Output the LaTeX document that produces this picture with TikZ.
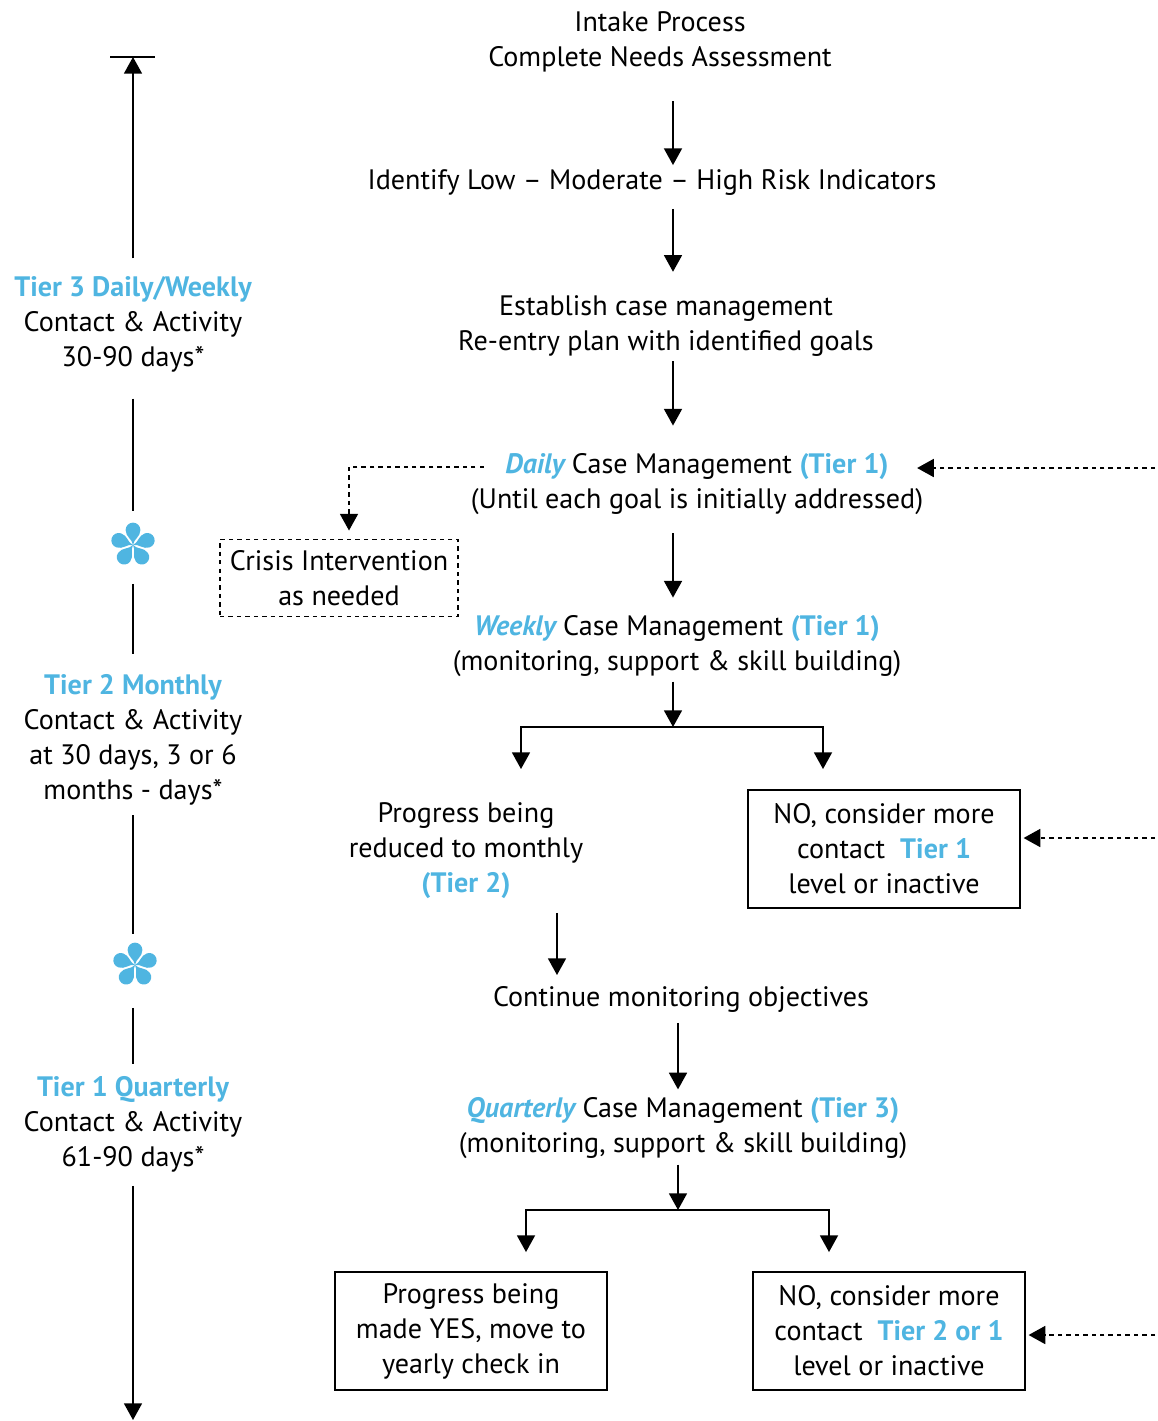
\documentclass[tikz,border=0pt]{standalone}
\usepackage{fontspec}
\setmainfont{PT Sans}
\usetikzlibrary{arrows.meta,calc}
\definecolor{tierblue}{RGB}{79,181,225}
\newcommand{\tb}[1]{\textbf{\color{tierblue}#1}}
\newcommand{\tbi}[1]{\textbf{\itshape\color{tierblue}#1}}
\tikzset{
  txt/.style={align=center,inner sep=0pt},
  okbox/.style={draw,align=center,minimum width=5.44cm,minimum height=2.36cm,inner sep=0pt},
  crisisbox/.style={okbox,dash pattern=on 2.5pt off 2.3pt,minimum width=4.76cm,minimum height=1.54cm},
  dashflow/.style={->,dash pattern=on 2.5pt off 2.3pt},
  starnode/.style={circle,minimum size=0.88cm,inner sep=0pt},
  petals/.pic={
    \foreach \a in {90,162,234,306,18}
      \fill[tierblue,rotate=\a] (0,0) .. controls (6,-0.6) and (8,-7.4) .. (15,-7.4)
        arc[start angle=-90,end angle=90,radius=7.4] .. controls (8,7.4) and (6,0.6) .. (0,0);
  }
}
\begin{document}
\begin{tikzpicture}[x=0.02cm,y=-0.02cm,>={Triangle[length=9.5pt,width=10.2pt]},line width=1.1pt,
  font=\fontsize{16}{19.9}\selectfont]
  \useasboundingbox (0,0) rectangle (1158,1421);
  % main column
  \node[txt] (intake) at (660,42) {Intake Process\\Complete Needs Assessment};
  \node[txt] (identify) at (652,183) {Identify Low – Moderate – High Risk Indicators};
  \node[txt] (establish) at (666,326) {Establish case management\\Re-entry plan with identified goals};
  \node[txt] (daily) at (697,484) {\tbi{Daily} Case Management \tb{(Tier 1)}\\(Until each goal is initially addressed)};
  \node[crisisbox] (crisis) at (339,578) {Crisis Intervention\\as needed};
  \node[txt] (weekly) at (677,646) {\tbi{Weekly} Case Management \tb{(Tier 1)}\\(monitoring, support \& skill building)};
  \node[txt] (monthly) at (466,851) {Progress being\\reduced to monthly\\\tb{(Tier 2)}};
  \node[okbox] (nomore1) at (884,849) {NO, consider more\\contact\ \ \tb{Tier 1}\\level or inactive};
  \node[txt] (cont) at (681,999) {Continue monitoring objectives};
  \node[txt] (quarterly) at (683,1128) {\tbi{Quarterly} Case Management \tb{(Tier 3)}\\(monitoring, support \& skill building)};
  \node[okbox] (yearly) at (471,1331) {Progress being\\made YES, move to\\yearly check in};
  \node[okbox] (nomore2) at (889,1331) {NO, consider more\\contact\ \ \tb{Tier 2 or 1}\\level or inactive};
  % tier column
  \node[txt] (tier3) at (133,324) {\tb{Tier 3 Daily/Weekly}\\Contact \& Activity\\30-90 days*};
  \node[starnode] (star1) at (133,545) {};
  \node[txt] (tier2) at (133,740) {\tb{Tier 2 Monthly}\\Contact \& Activity\\at 30 days, 3 or 6\\months - days*};
  \node[starnode] (star2) at (135,965) {};
  \node[txt] (tier1) at (133,1124) {\tb{Tier 1 Quarterly}\\Contact \& Activity\\61-90 days*};
  \pic at (star1) {petals};
  \pic at (star2) {petals};
  \coordinate (mainx) at (673,0);
  \coordinate (sidex) at (557,0);
  \coordinate (lowx) at (678,0);
  \coordinate (split1) at (673,727);
  \coordinate (split2) at (678,1210);
  \coordinate (topcap) at (133,57);
  \coordinate (botend) at (133,1420);
  \coordinate (ret1) at (1155,468);
  \coordinate (ret2) at (1155,838);
  \coordinate (ret3) at (1155,1335);
  % arrows
  \draw[->,shorten <=15.9pt,shorten >=2.3pt] (intake.south -| mainx) -- (identify.north -| mainx);
  \draw[->,shorten <=6.8pt,shorten >=13pt] (identify.south -| mainx) -- (establish.north -| mainx);
  \draw[->,shorten <=2.3pt,shorten >=15.3pt] (establish.south -| mainx) -- (daily.north -| mainx);
  \draw[->,shorten <=10.2pt,shorten >=9.6pt] (daily.south -| mainx) -- (weekly.north -| mainx);
  \draw[->,shorten <=2.3pt] (weekly.south -| mainx) -- (split1);
  \draw[->] (split1) -| ([shift={(55,-33)}]monthly.north);
  \draw[->] (split1) -| ([shift={(-61,-20)}]nomore1.north);
  \draw[->,shorten <=7.4pt,shorten >=5.7pt] (monthly.south -| sidex) -- (cont.north -| sidex);
  \draw[->,shorten <=5.7pt,shorten >=4pt] (cont.south -| lowx) -- (quarterly.north -| lowx);
  \draw[->,shorten <=2.8pt] (quarterly.south -| lowx) -- (split2);
  \draw[->] (split2) -| ([shift={(55,-19)}]yearly.north);
  \draw[->] (split2) -| ([shift={(-60,-19)}]nomore2.north);
  % dashed returns
  \draw[dashflow,shorten >=-4pt] (ret1) -- (ret1 -| daily.east);
  \draw[dashflow] ([shift={(14,-17)}]daily.west) -| ([shift={(10,-8)}]crisis.north);
  \draw[dashflow,shorten >=1.5pt] (ret2) -- (ret2 -| nomore1.east);
  \draw[dashflow,shorten >=1.5pt] (ret3) -- (ret3 -| nomore2.east);
  % time line
  \draw ([xshift=-0.46cm]topcap) -- ([xshift=0.44cm]topcap);
  \draw[->,shorten <=9.6pt] (tier3.north) -- (topcap);
  \draw[shorten <=14.7pt,shorten >=6.2pt] (tier3.south) -- (star1.north -| tier3);
  \draw[shorten <=9pt,shorten >=11.3pt] (star1.south -| tier3) -- (tier2.north);
  \draw[shorten <=5pt,shorten >=4.5pt] (tier2.south) -- (star2.north -| tier2);
  \draw[shorten <=11.3pt,shorten >=6.2pt] (star2.south -| tier2) -- (tier1.north);
  \draw[->,shorten <=7.4pt] (tier1.south) -- (botend);
\end{tikzpicture}
\end{document}
